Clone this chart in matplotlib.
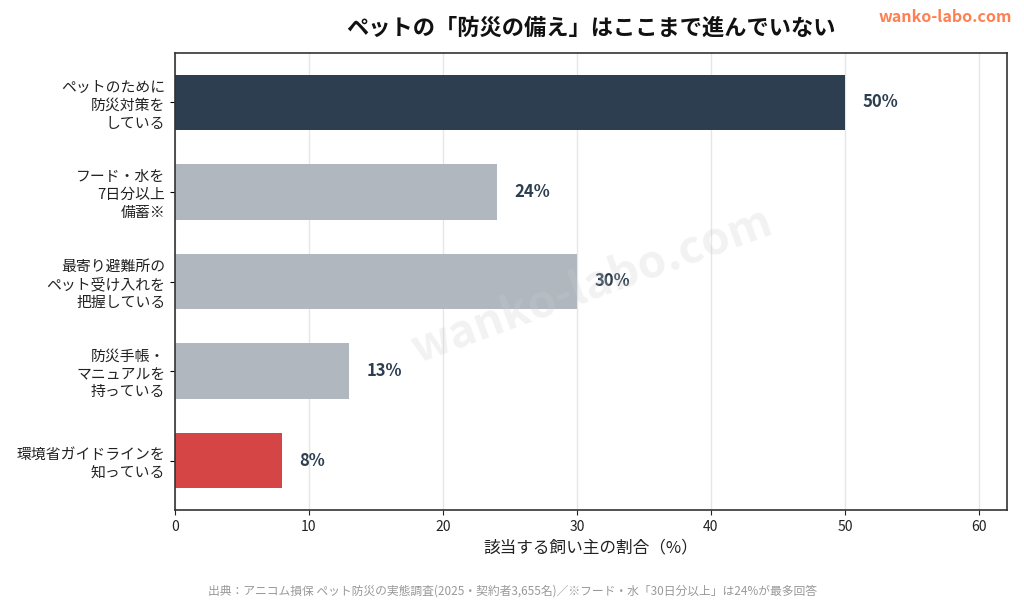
import numpy as np
from matplotlib import pyplot as plt

plt.rcParams['font.family'] = ['Noto Sans CJK JP', 'DejaVu Sans']

### data
labels = ['ペットのために\n防災対策を\nしている',
          'フード・水を\n7日分以上\n備蓄※',
          '最寄り避難所の\nペット受け入れを\n把握している',
          '防災手帳・\nマニュアルを\n持っている',
          '環境省ガイドラインを\n知っている']
values = [50, 24, 30, 13, 8]
colors = ['#2c3e50', '#b0b7bf', '#b0b7bf', '#b0b7bf', '#d64545']
xticks = [0, 10, 20, 30, 40, 50, 60]

title = 'ペットの「防災の備え」はここまで進んでいない'
xlabel = '該当する飼い主の割合（%）'
source = '出典：アニコム損保 ペット防災の実態調査(2025・契約者3,655名)／※フード・水「30日分以上」は24%が最多回答'

### figure
fig = plt.figure(figsize=(10.24, 6.01), dpi=100)
ax = fig.add_axes([175/1024, 1 - 510/601, (1007-175)/1024, (510-53)/601])

y = np.arange(len(values))
ax.barh(y, values, height=0.62, color=colors, zorder=2)
for yi, v in zip(y, values):
    ax.text(v + 1.3, yi, f'{v}%', va='center', ha='left',
            fontsize=12, fontweight='bold', color='#2c3e50')

ax.set_yticks(y)
ax.set_yticklabels(labels, fontsize=10.7, color='#222222', linespacing=1.35)
ax.set_ylim(len(values) - 0.45, -0.55)
ax.set_xlim(0, 62.1)
ax.set_xticks(xticks)
ax.tick_params(axis='x', labelsize=10, colors='#222222')
ax.set_xlabel(xlabel, fontsize=12, color='#222222', labelpad=4)
ax.grid(axis='x', color='#e6e6e6', linewidth=1, zorder=0)
for s in ax.spines.values():
    s.set_color('#333333')
    s.set_linewidth(1.2)

# watermark
fig.text(592/1024, 1 - 285/601, 'wanko-labo.com', fontsize=33,
         fontweight='bold', color='#cccccc', alpha=0.25, rotation=20,
         ha='center', va='center', zorder=10)

fig.text(591/1024, 1 - 28/601, title, fontsize=16, fontweight='bold',
         ha='center', va='center', color='#111111')
fig.text(1012/1024, 1 - 17/601, 'wanko-labo.com', fontsize=11.5,
         fontweight='bold', ha='right', va='center', color='#ff7f50')
fig.text(512/1024, 1 - 591/601, source, fontsize=8.5, ha='center',
         va='center', color='#999999')

fig.savefig('out.png', dpi=100)
